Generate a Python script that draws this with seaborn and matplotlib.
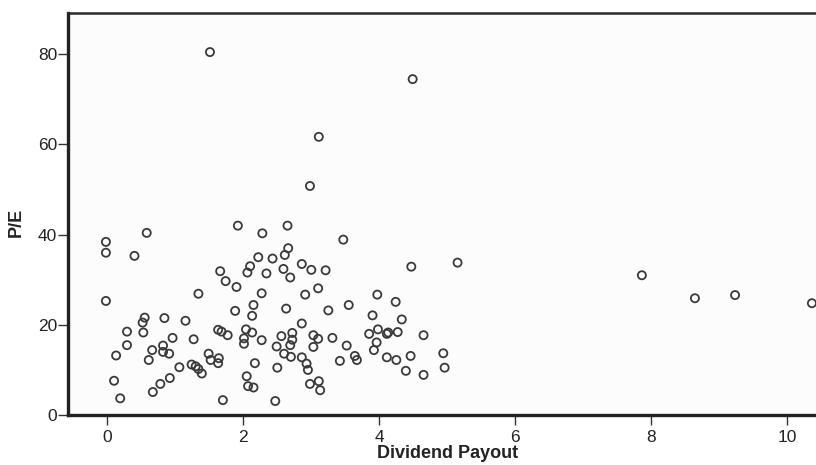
import matplotlib
matplotlib.use("Agg")
import matplotlib.pyplot as plt
import seaborn as sns
import pandas as pd

# Dividend payout vs P/E
payout = [
    -0.02, -0.02, -0.02, 0.40, 0.58, 1.51, 4.49, 3.11, 2.98, 3.47,
    1.92, 2.65, 2.28, 1.66, 1.74, 1.90, 1.34, 2.22, 2.43, 2.61,
    2.66, 2.10, 2.06, 2.34, 2.59, 2.69, 2.86, 3.00, 3.21, 2.27,
    2.15, 1.88, 2.13, 2.63, 4.47, 5.15, 3.10, 2.91, 3.97, 4.24,
    3.55, 3.25, 3.90, 4.33, 2.86, 0.55, 0.52, 0.84, 1.15, 0.29,
    0.53, 0.96, 1.27, 0.29, 0.82, 0.66, 0.82, 0.91, 0.13, 0.61,
    1.06, 1.49, 1.64, 1.52, 1.63, 1.24, 1.30, 1.34, 1.39, 0.10,
    0.92, 0.78, 0.67, 0.19, 1.70, 2.47, 1.63, 1.68, 1.77, 2.04,
    2.13, 2.01, 2.01, 2.27, 2.56, 2.72, 2.72, 2.69, 2.49, 2.60,
    2.70, 2.86, 2.93, 2.95, 3.03, 3.10, 3.03, 3.31, 2.17, 2.50,
    2.05, 2.07, 2.15, 2.98, 3.11, 3.13, 3.52, 3.42, 3.64, 3.67,
    3.96, 3.92, 3.98, 3.85, 4.11, 4.13, 4.27, 4.65, 4.11, 4.25,
    4.46, 4.94, 4.96, 4.39, 4.65, 7.86, 8.64, 9.23, 10.36,
]
pe_ratio = [
    38.4, 36.0, 25.3, 35.3, 40.4, 80.5, 74.5, 61.7, 50.8, 38.9,
    42.0, 42.0, 40.3, 31.9, 29.7, 28.4, 26.9, 35.0, 34.7, 35.5,
    37.0, 33.0, 31.6, 31.4, 32.4, 30.5, 33.5, 32.2, 32.1, 27.0,
    24.4, 23.1, 22.0, 23.6, 32.9, 33.8, 28.1, 26.7, 26.7, 25.1,
    24.4, 23.2, 22.1, 21.2, 20.3, 21.6, 20.5, 21.5, 20.9, 18.5,
    18.3, 17.1, 16.8, 15.5, 15.4, 14.4, 14.0, 13.6, 13.2, 12.2,
    10.6, 13.6, 12.6, 12.2, 11.5, 11.2, 10.8, 10.2, 9.2, 7.6,
    8.2, 6.9, 5.1, 3.7, 3.3, 3.1, 18.9, 18.5, 17.7, 19.0,
    18.3, 17.0, 15.8, 16.6, 17.5, 18.2, 16.7, 15.5, 15.2, 13.6,
    12.9, 12.8, 11.4, 10.0, 17.7, 16.9, 15.1, 17.1, 11.5, 10.5,
    8.6, 6.4, 6.1, 6.9, 7.5, 5.5, 15.4, 12.0, 13.1, 12.2,
    16.1, 14.4, 19.0, 18.0, 18.0, 18.3, 18.4, 17.7, 12.8, 12.2,
    13.1, 13.7, 10.5, 9.8, 8.9, 31.0, 25.9, 26.6, 24.8,
]
x_ticks = [0, 2, 4, 6, 8, 10]
y_ticks = [0, 20, 40, 60, 80]

df = pd.DataFrame({"Dividend Payout": payout, "P/E": pe_ratio})

sns.set_style("white")
plt.rcParams["font.family"] = ["Liberation Sans", "DejaVu Sans"]

fig = plt.figure(figsize=(8.16, 4.65), dpi=100)
ax = fig.add_axes([0.0837, 0.1075, 0.9163, 0.8639])
ax.set_facecolor("#fcfcfc")

sns.scatterplot(data=df, x="Dividend Payout", y="P/E", ax=ax,
                marker="o", s=34, facecolors="none",
                edgecolor="#3a3a3a", linewidth=1.3)

ax.set_xlim(-0.573, 10.42)
ax.set_ylim(0, 89.1)
ax.set_xticks(x_ticks)
ax.set_yticks(y_ticks)
ax.tick_params(axis="both", direction="out", length=7, width=1.0,
               color="#333333", labelcolor="#222222", labelsize=12.5,
               bottom=True, left=True)
ax.tick_params(axis="x", pad=4)
ax.tick_params(axis="y", pad=1)

for side in ["left", "bottom"]:
    ax.spines[side].set_linewidth(2.4)
    ax.spines[side].set_color("#222222")
ax.spines["top"].set_linewidth(1.8)
ax.spines["top"].set_color("#2a2a2a")
ax.spines["right"].set_visible(False)

ax.set_xlabel("Dividend Payout", fontsize=13, fontweight="bold",
              color="#222222")
ax.set_ylabel("P/E", fontsize=13, fontweight="bold", color="#222222")
ax.xaxis.set_label_coords(0.507, -0.075)
ax.yaxis.set_label_coords(-0.058, 0.48)

fig.savefig("out.png", dpi=100, facecolor="white")
